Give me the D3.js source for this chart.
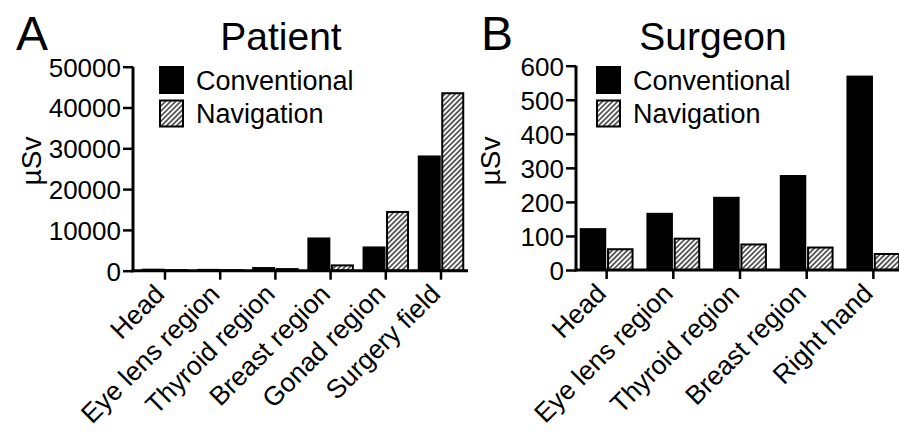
<!DOCTYPE html>
<html>
<head>
<meta charset="utf-8">
<script src="https://cdn.jsdelivr.net/npm/d3@7"></script>
<style>
  body { margin: 0; background: #fff; }
  svg text { font-family: "Liberation Sans", Arial, sans-serif; fill: #000; }
</style>
</head>
<body>
<div class="canvas"></div>
<script>
// data (µSv)
const patientCategories = ["Head", "Eye lens region", "Thyroid region", "Breast region", "Gonad region", "Surgery field"];
const patientConventional = [250, 200, 650, 7900, 5700, 28000];
const patientNavigation = [150, 150, 400, 1300, 14400, 43500];
const patientTicks = [0, 10000, 20000, 30000, 40000, 50000];

const surgeonCategories = ["Head", "Eye lens region", "Thyroid region", "Breast region", "Right hand"];
const surgeonConventional = [120, 165, 212, 276, 568];
const surgeonNavigation = [61, 92, 75, 66, 47];
const surgeonTicks = [0, 100, 200, 300, 400, 500, 600];

const seriesNames = ["Conventional", "Navigation"];

const svg = d3.select('.canvas')
    .append('svg')
    .attr('width', 899)
    .attr('height', 434);

// hatch for the navigation bars
svg.append('defs').append('pattern')
    .attr('id', 'hatch')
    .attr('patternUnits', 'userSpaceOnUse')
    .attr('width', 3.6)
    .attr('height', 3.6)
    .attr('patternTransform', 'rotate(45)')
  .call(p => {
    p.append('rect').attr('width', 3.6).attr('height', 3.6).attr('fill', '#fff');
    p.append('line').attr('x1', 0.9).attr('x2', 0.9).attr('y1', 0).attr('y2', 3.6)
      .attr('stroke', '#333').attr('stroke-width', 1.5);
  });

const fills = ['#000', 'url(#hatch)'];

const drawPanel = (cfg) => {
    const g = svg.append('g');

    const y = d3.scaleLinear()
        .domain([0, d3.max(cfg.ticks)])
        .range([cfg.bottom, cfg.top]);

    const x = d3.scaleBand()
        .domain(cfg.categories)
        .range(cfg.band)
        .padding(0);

    const rows = cfg.categories.map((c, i) => ({ cat: c, vals: [cfg.conv[i], cfg.nav[i]] }));

    // bars
    const groups = g.selectAll('g.grp')
        .data(rows)
        .enter().append('g')
        .attr('class', 'grp')
        .attr('transform', d => `translate(${x(d.cat) + x.bandwidth() / 2},0)`);

    groups.selectAll('rect')
        .data(d => d.vals)
        .enter().append('rect')
        .attr('x', (d, i) => i === 0 ? -cfg.barW - cfg.gap / 2 : cfg.gap / 2)
        .attr('y', d => y(d))
        .attr('width', cfg.barW)
        .attr('height', d => cfg.bottom - y(d))
        .attr('fill', (d, i) => fills[i])
        .attr('stroke', '#000')
        .attr('stroke-width', 2);

    // y axis
    const yAxis = g.append('g')
        .attr('transform', `translate(${cfg.left},0)`)
        .call(d3.axisLeft(y).tickValues(cfg.ticks).tickFormat(d3.format('d')).tickSize(10).tickPadding(2));
    yAxis.select('.domain').remove();
    yAxis.selectAll('.tick line').attr('stroke-width', 2.5);
    yAxis.selectAll('.tick text').attr('font-size', 26).attr('font-family', null).attr('dy', '0.36em');
    g.append('line')
        .attr('x1', cfg.left).attr('x2', cfg.left)
        .attr('y1', cfg.top).attr('y2', cfg.bottom + 1.5)
        .attr('stroke', '#000').attr('stroke-width', 3);

    // x axis
    const xAxis = g.append('g')
        .attr('transform', `translate(0,${cfg.bottom})`)
        .call(d3.axisBottom(x).tickSize(9).tickFormat(''));
    xAxis.select('.domain').remove();
    xAxis.selectAll('.tick line').attr('stroke-width', 2.5);
    g.append('line')
        .attr('x1', cfg.left - 1.5).attr('x2', cfg.right)
        .attr('y1', cfg.bottom).attr('y2', cfg.bottom)
        .attr('stroke', '#000').attr('stroke-width', 3);

    g.selectAll('text.xlab')
        .data(cfg.categories)
        .enter().append('text')
        .attr('class', 'xlab')
        .attr('text-anchor', 'end')
        .attr('font-size', 26.5)
        .attr('transform', d => `translate(${x(d) + x.bandwidth() / 2 + 1},${cfg.bottom + 25}) rotate(-45)`)
        .text(d => d);

    // y label
    g.append('text')
        .attr('text-anchor', 'middle')
        .attr('font-size', 28)
        .attr('transform', `translate(${cfg.ylabX},161) rotate(-90)`)
        .text('\u00b5Sv');

    // titles
    g.append('text').attr('x', cfg.letterX).attr('y', 50).attr('font-size', 48).text(cfg.letter);
    g.append('text').attr('x', cfg.titleX).attr('y', 50).attr('font-size', 39)
        .attr('text-anchor', 'middle').text(cfg.title);

    // legend
    const leg = g.selectAll('g.leg')
        .data(seriesNames)
        .enter().append('g')
        .attr('class', 'leg')
        .attr('transform', (d, i) => `translate(${cfg.legX},${67 + i * 33.5})`);
    leg.append('rect')
        .attr('width', 23).attr('height', 26)
        .attr('fill', (d, i) => fills[i])
        .attr('stroke', '#000').attr('stroke-width', 2);
    leg.append('text')
        .attr('x', 36).attr('y', 22.5)
        .attr('font-size', 27)
        .text(d => d);
};

drawPanel({
    categories: patientCategories, conv: patientConventional, nav: patientNavigation, ticks: patientTicks,
    top: 66.7, bottom: 270.7, left: 133, right: 468, band: [137.4, 468.6],
    barW: 21, gap: 2.5, ylabX: 41, letter: 'A', letterX: 16, title: 'Patient', titleX: 281, legX: 160
});

drawPanel({
    categories: surgeonCategories, conv: surgeonConventional, nav: surgeonNavigation, ticks: surgeonTicks,
    top: 65.7, bottom: 270, left: 576, right: 899, band: [573.3, 906.7],
    barW: 24.5, gap: 2.8, ylabX: 500, letter: 'B', letterX: 481, title: 'Surgeon', titleX: 713, legX: 597
});
</script>
</body>
</html>
